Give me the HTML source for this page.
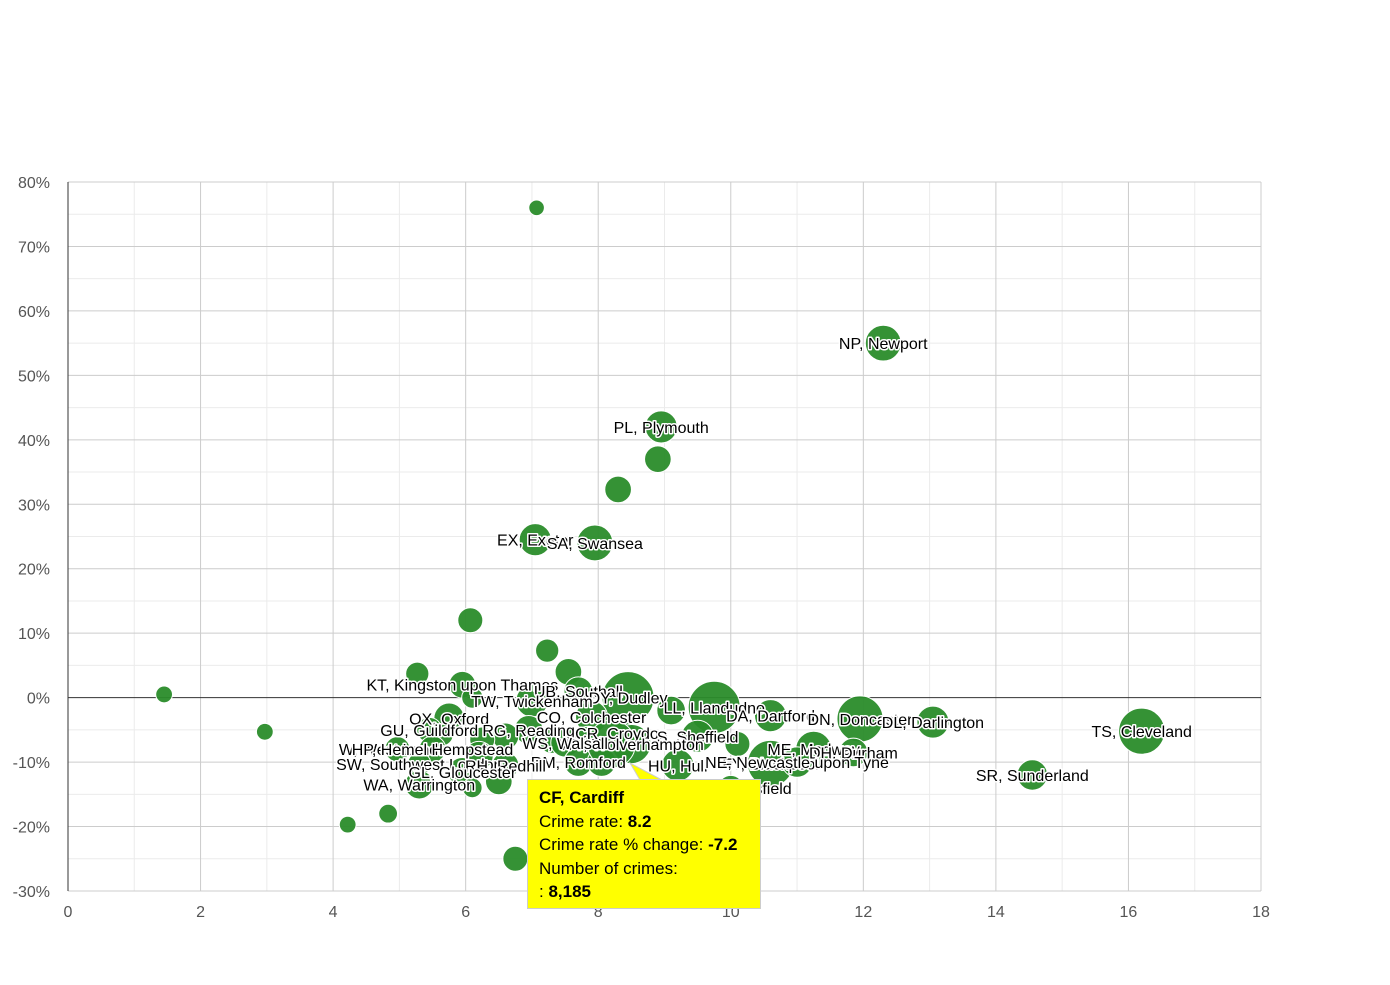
<!DOCTYPE html>
<html><head><meta charset="utf-8"><style>
body{margin:0;background:#fff;font-family:"Liberation Sans",Arial,sans-serif;}
svg text{font-family:"Liberation Sans",Arial,sans-serif;}
.lbl{font-size:16px;fill:#000;stroke:#fff;stroke-width:3px;paint-order:stroke;stroke-linejoin:round;}
.tick{font-size:16px;fill:#555;}
#tip{position:absolute;left:527px;top:779px;width:221px;height:122px;background:#ffff00;border:1px solid #ccc;padding:6px 0 0 11px;font-size:17px;line-height:23.5px;color:#000;box-sizing:content-box;}
</style></head><body>
<div style="position:relative;width:1390px;height:980px">
<svg id="chart" width="1390" height="980"></svg>
<svg style="position:absolute;left:0;top:0" width="1390" height="980"><polygon points="630,763 640,780 662,780" fill="#ffff00" stroke="#ccc"/><line x1="641" y1="780" x2="661" y2="780" stroke="#ffff00" stroke-width="2"/></svg>
<div id="tip"><b>CF, Cardiff</b><br>Crime rate: <b>8.2</b><br>Crime rate % change: <b>-7.2</b><br>Number of crimes:<br>: <b>8,185</b></div>
</div>
<script>
const xTicks=[0,2,4,6,8,10,12,14,16,18];
const yTicks=[-30,-20,-10,0,10,20,30,40,50,60,70,80];
const crimeRate=[1.45,2.97,4.22,4.83,7.07,12.3,8.95,8.9,8.3,7.05,7.95,6.07,7.23,7.55,5.27,5.95,6.1,7.7,8.45,9.75,9.1,10.6,11.95,13.05,16.2,14.55,7.0,7.9,5.75,5.45,6.95,8.35,9.5,6.6,6.25,5.65,7.3,7.85,8.5,7.5,10.1,11.25,11.85,4.97,5.5,6.2,7.7,8.05,5.3,6.6,9.2,10.6,11.0,5.95,6.5,5.3,6.1,6.75,10.0,8.2];
const pctChange=[0.5,-5.3,-19.7,-18,76,55,42,37,32.3,24.5,24,12,7.3,4,3.7,2,0,1,0,-1.5,-2,-2.8,-3.3,-3.8,-5.2,-12,-0.5,-3,-3.2,-5,-5,-5.5,-6,-6,-6.5,-5.8,-6.7,-6.5,-7.2,-7,-7.2,-8,-8.5,-8,-8,-9,-10,-10,-10.3,-10.5,-10.5,-10.2,-10,-11.5,-13,-13.5,-14,-25,-14,-7.2];
const crimeCount=[400,400,400,600,300,4000,3000,1800,1800,3000,4000,1500,1200,1800,1200,1800,900,2200,10000,10000,2200,3000,7500,3000,7500,2600,3000,3000,2600,1500,2200,2200,3000,1800,1500,900,1500,1800,5000,2200,1500,4000,2200,1500,1800,2200,2200,2200,1200,1800,3000,7500,2600,2200,1800,2200,700,1500,1500,8185];
const names=["","","","","","NP, Newport","PL, Plymouth","","","EX, Exeter","SA, Swansea","","","","","KT, Kingston upon Thames","","UB, Southall","DY, Dudley","LL, Llandudno","","DA, Dartford","DN, Doncaster","DL, Darlington","TS, Cleveland","SR, Sunderland","TW, Twickenham","CO, Colchester","OX, Oxford","GU, Guildford","RG, Reading","CR, Croydon","S, Sheffield","","","","","","WV, Wolverhampton","WS, Walsall","","ME, Medway","DH, Durham","W, West London","HP, Hemel Hempstead","","RM, Romford","","SW, Southwest London","RH, Redhill","HU, Hull","FY, Blackpool","NE, Newcastle upon Tyne","GL, Gloucester","","WA, Warrington","","","HD, Huddersfield",""];
const NS="http://www.w3.org/2000/svg";
const svg=document.getElementById('chart');
const X0=68,X1=1261,Y0=891,Y1=182;
const xS=v=>X0+(v-0)/(18-0)*(X1-X0);
const yS=v=>Y0-(v+30)/(80+30)*(Y0-Y1);
const rS=c=>4+Math.sqrt(c/10000)*22;
function mk(t,a,p){const e=document.createElementNS(NS,t);for(const k in a)e.setAttribute(k,a[k]);(p||svg).appendChild(e);return e;}
const grid=mk('g',{});


for(let v=1;v<18;v+=2){mk('line',{x1:xS(v),x2:xS(v),y1:Y1,y2:Y0,stroke:'#ebebeb'},grid);}
for(let v=-25;v<80;v+=10){mk('line',{x1:X0,x2:X1,y1:yS(v),y2:yS(v),stroke:'#ebebeb'},grid);}
xTicks.forEach(v=>{if(v>0)mk('line',{x1:xS(v),x2:xS(v),y1:Y1,y2:Y0,stroke:'#ccc'},grid);
const t=mk('text',{x:xS(v),y:917,'text-anchor':'middle',class:'tick'});t.textContent=v;

});
yTicks.forEach(v=>{mk('line',{x1:X0,x2:X1,y1:yS(v),y2:yS(v),stroke:v===0?'#333':'#ccc'},grid);
const t=mk('text',{x:50,y:yS(v)+6,'text-anchor':'end',class:'tick'});t.textContent=v+'%';

});
mk('line',{x1:X0,x2:X0,y1:Y1,y2:Y0,stroke:'#333'},grid);
const bubbles=mk('g',{});
crimeRate.forEach((x,i)=>{const c=mk('circle',{cx:xS(x),cy:yS(pctChange[i]),r:rS(crimeCount[i]),fill:'#2a8c2a','fill-opacity':0.95,stroke:'#fff','stroke-width':1},bubbles);

});
const labels=mk('g',{});
names.forEach((n,i)=>{if(!n)return;const t=mk('text',{x:xS(crimeRate[i]),y:yS(pctChange[i])+6,'text-anchor':'middle',class:'lbl'},labels);t.textContent=n;

});
</script>
</body></html>
